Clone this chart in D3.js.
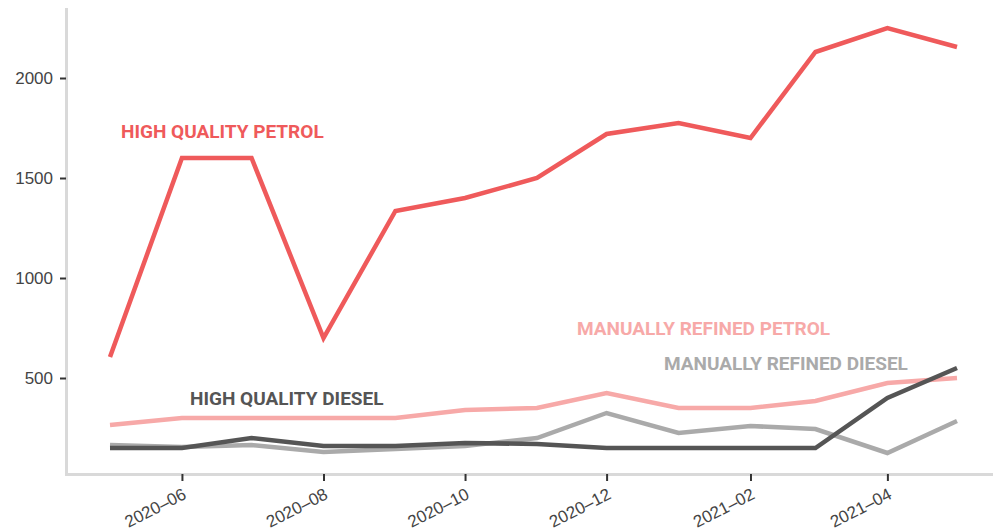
<!DOCTYPE html>
<html>
<head>
<meta charset="utf-8">
<script src="https://cdn.jsdelivr.net/npm/d3@7"></script>
<style>
  body { margin: 0; background: #fff; }
  .tick text { font-family: "Liberation Sans", Arial, sans-serif; font-size: 17px; fill: #444; }
  .lbl { font-family: "Roboto", "Liberation Sans Narrow", sans-serif; font-weight: bold; font-size: 19px; }
</style>
</head>
<body>
<div id="chart"></div>
<script>
var months = ["2020-05", "2020-06", "2020-07", "2020-08", "2020-09", "2020-10", "2020-11",
  "2020-12", "2021-01", "2021-02", "2021-03", "2021-04", "2021-05"];

var hqPetrol = [605, 1600, 1600, 700, 1335, 1400, 1500, 1720, 1775, 1700, 2130, 2250, 2155];
var mrPetrol = [265, 300, 300, 300, 300, 340, 350, 425, 350, 350, 385, 475, 500];
var hqDiesel = [150, 150, 200, 160, 160, 175, 170, 150, 150, 150, 150, 400, 550];
var mrDiesel = [165, 155, 165, 130, 145, 160, 200, 325, 225, 260, 245, 125, 285];

var yTicks = [500, 1000, 1500, 2000];
var xTicks = ["2020-06", "2020-08", "2020-10", "2020-12", "2021-02", "2021-04"];

var series = [
  { name: "MANUALLY REFINED PETROL", values: mrPetrol, color: "#f7a9a8", lx: 577, ly: 328 },
  { name: "MANUALLY REFINED DIESEL", values: mrDiesel, color: "#aaaaaa", lx: 664, ly: 363 },
  { name: "HIGH QUALITY DIESEL", values: hqDiesel, color: "#555555", lx: 190, ly: 398 },
  { name: "HIGH QUALITY PETROL", values: hqPetrol, color: "#ef5a5b", lx: 121, ly: 131 }
];

var width = 993, height = 532;
var parse = d3.timeParse("%Y-%m");
var dates = months.map(parse);

var svg = d3.select("#chart").append("svg")
  .attr("width", width)
  .attr("height", height);

var x = d3.scaleTime()
  .domain([parse("2020-05"), parse("2021-05")])
  .range([110, 957]);

var y = d3.scaleLinear()
  .domain([0, 2350])
  .range([478, 8]);

var yBase = 474.5, xLeft = 66.5;

// axis lines (light grey)
svg.append("line")
  .attr("x1", xLeft).attr("x2", xLeft)
  .attr("y1", 8).attr("y2", yBase + 1.5)
  .attr("stroke", "#d9d9d9").attr("stroke-width", 3);

svg.append("line")
  .attr("x1", xLeft - 1.5).attr("x2", width)
  .attr("y1", yBase).attr("y2", yBase)
  .attr("stroke", "#d9d9d9").attr("stroke-width", 3);

// y axis
var yAxis = svg.append("g")
  .attr("transform", "translate(66,0)")
  .call(d3.axisLeft(y).tickValues(yTicks).tickSize(6).tickPadding(7).tickFormat(d3.format("d")));
yAxis.select(".domain").remove();
yAxis.selectAll(".tick line").attr("stroke", "#333").attr("stroke-width", 2);

// x axis
var xAxis = svg.append("g")
  .attr("transform", "translate(0,474)")
  .call(d3.axisBottom(x).tickValues(xTicks.map(parse)).tickSize(7).tickFormat(d3.timeFormat("%Y\u2013%m")));
xAxis.select(".domain").remove();
xAxis.selectAll(".tick line").attr("stroke", "#333").attr("stroke-width", 2);
xAxis.selectAll(".tick text")
  .attr("text-anchor", "end")
  .attr("y", 0)
  .attr("dy", 0)
  .attr("transform", "translate(5,24) rotate(-27)");

var line = d3.line()
  .x(function(d, i) { return x(dates[i]); })
  .y(function(d) { return y(d); });

series.forEach(function(s) {
  svg.append("path")
    .datum(s.values)
    .attr("d", line)
    .attr("fill", "none")
    .attr("stroke", s.color)
    .attr("stroke-width", 4.5);
});

series.forEach(function(s) {
  svg.append("text")
    .attr("class", "lbl")
    .attr("x", s.lx)
    .attr("y", s.ly)
    .attr("dy", "0.35em")
    .attr("fill", s.color)
    .text(s.name);
});
</script>
</body>
</html>
